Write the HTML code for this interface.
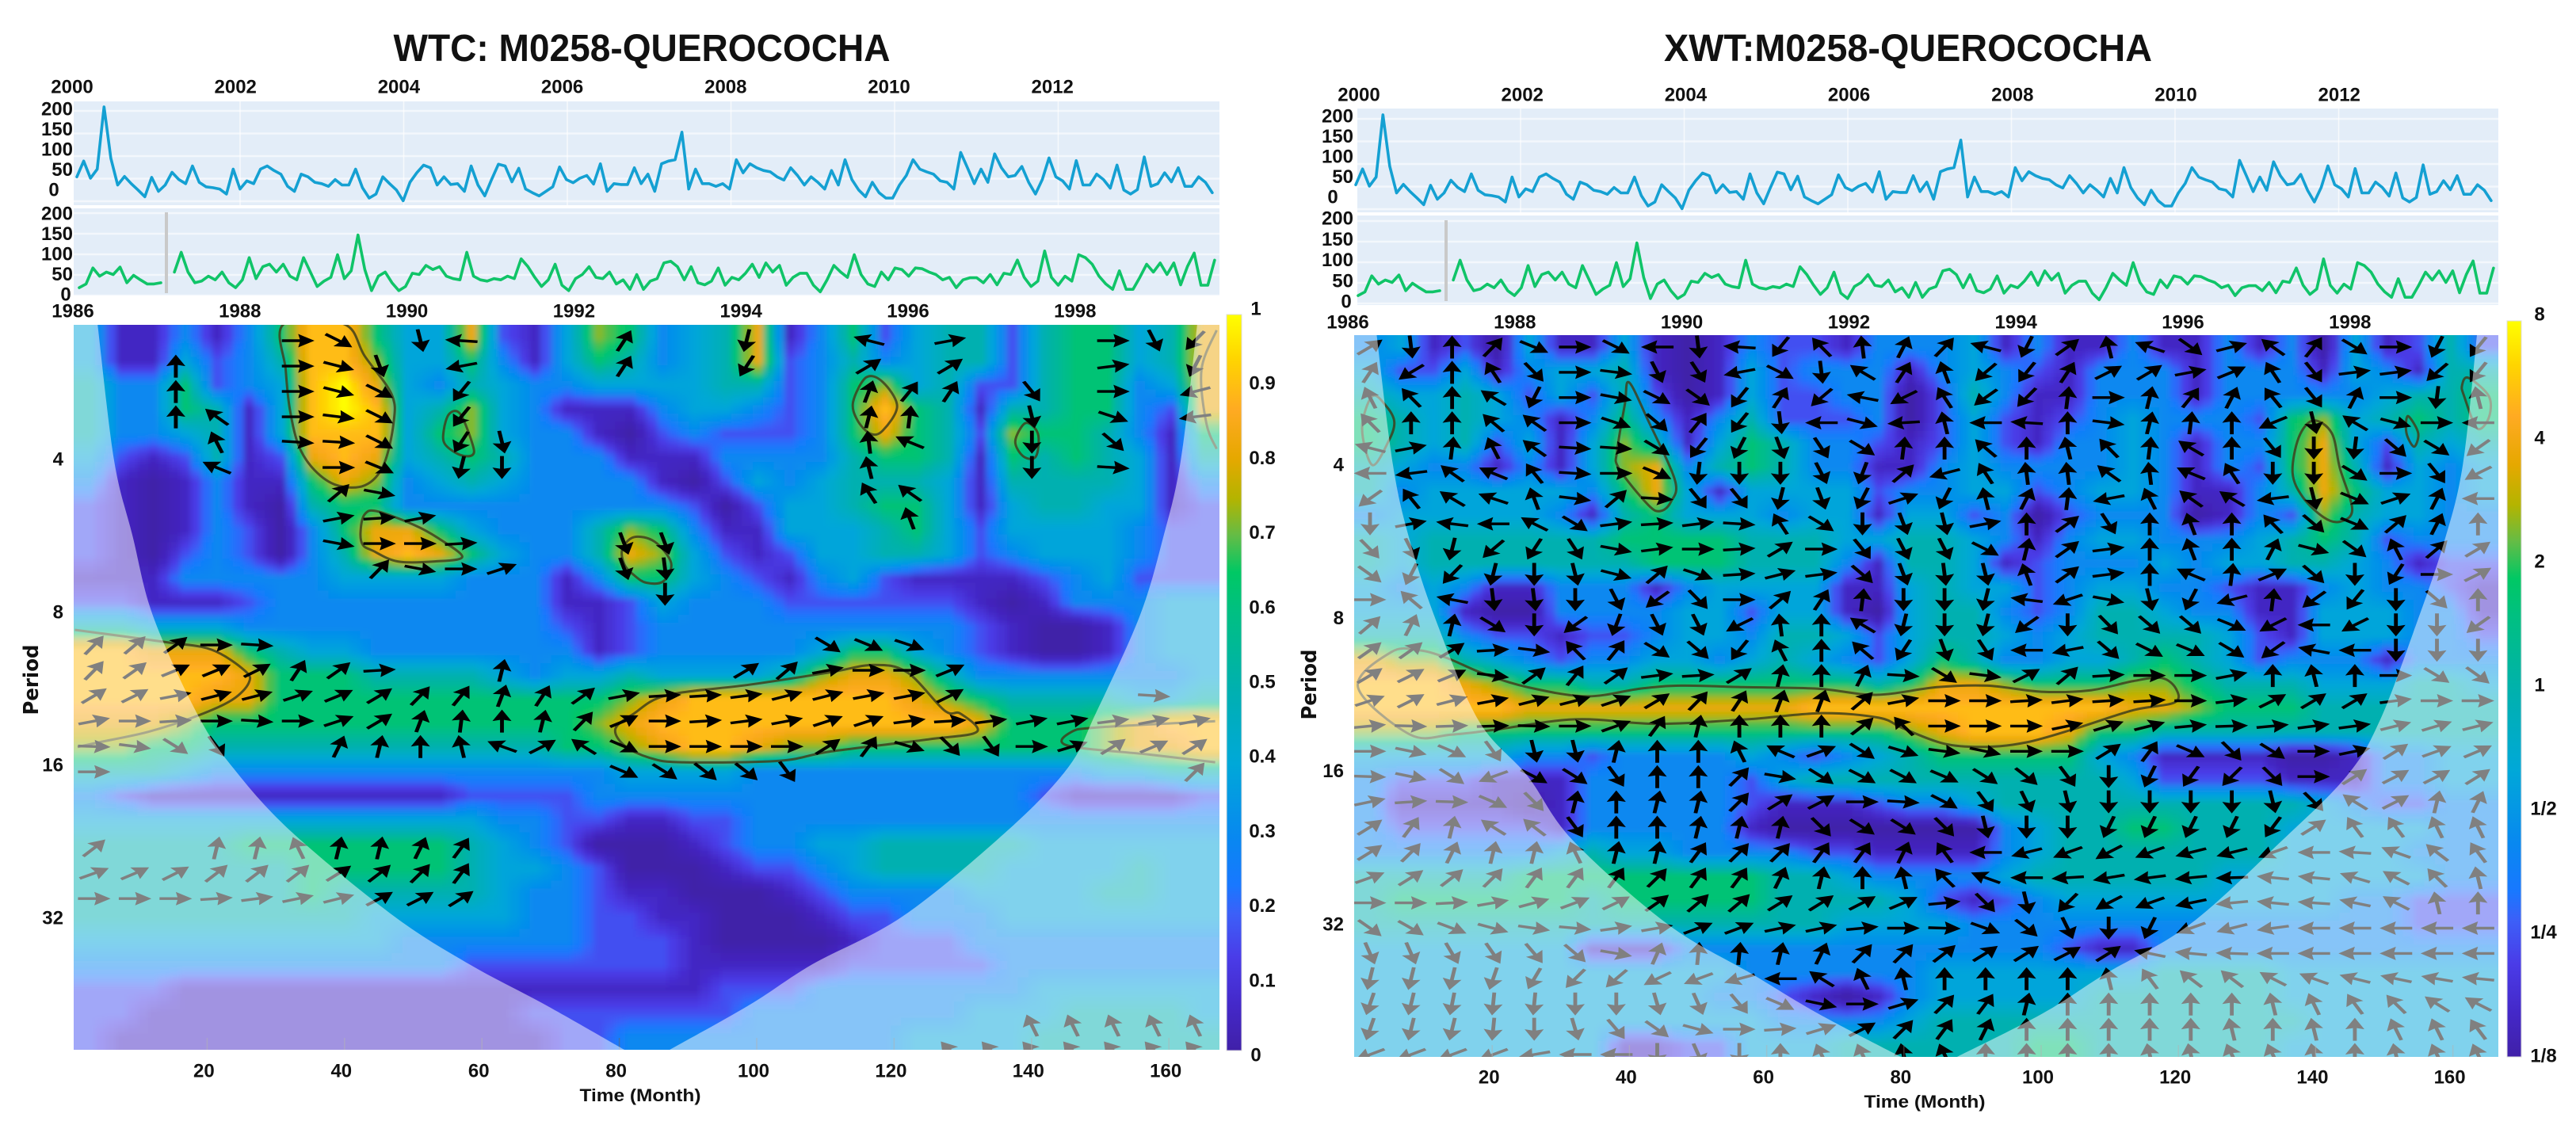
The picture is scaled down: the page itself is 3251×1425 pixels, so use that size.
<!DOCTYPE html>
<html lang="en">
<head>
<meta charset="utf-8">
<title>WTC and XWT: M0258-QUEROCOCHA</title>
<style>
html,body{margin:0;padding:0;background:#fff;}
svg{display:block;}
text{font-family:"Liberation Sans","DejaVu Sans",sans-serif;font-weight:700;fill:#111;}
</style>
</head>
<body>
<svg id="figure" xmlns="http://www.w3.org/2000/svg" width="3251" height="1425" viewBox="0 0 3251 1425">
<defs>
<filter id="wave-blur" filterUnits="userSpaceOnUse" x="0" y="350" width="3251" height="1075"><feGaussianBlur stdDeviation="4"/></filter>
<clipPath id="clip-wtc"><rect x="93" y="410" width="1446" height="915"/></clipPath>
<clipPath id="clip-xwt"><rect x="1709" y="423" width="1444" height="911"/></clipPath>
</defs>
<text x="810" y="77" text-anchor="middle" font-size="48" textLength="627" lengthAdjust="spacingAndGlyphs">WTC: M0258-QUEROCOCHA</text>
<text x="2408" y="77" text-anchor="middle" font-size="48" textLength="616" lengthAdjust="spacingAndGlyphs">XWT:M0258-QUEROCOCHA</text>
<g id="wtc-chart"></g>
<g id="xwt-chart"></g>
<text transform="translate(48,858) rotate(-90)" text-anchor="middle" font-size="26" textLength="89" lengthAdjust="spacingAndGlyphs" style="font-family:'DejaVu Sans',sans-serif">Period</text>
<text transform="translate(1661,864) rotate(-90)" text-anchor="middle" font-size="26" textLength="89" lengthAdjust="spacingAndGlyphs" style="font-family:'DejaVu Sans',sans-serif">Period</text>
<text x="808" y="1390" text-anchor="middle" font-size="22" textLength="153" lengthAdjust="spacingAndGlyphs">Time (Month)</text>
<text x="2429" y="1398" text-anchor="middle" font-size="22" textLength="153" lengthAdjust="spacingAndGlyphs">Time (Month)</text>
</svg>
<script>
/* ---------- series ---------- */
const blueSeries = [54,89,51,71,209,95,36,55,39,25,10,53,22,36,64,48,39,78,42,32,30,27,16,71,27,45,39,71,78,68,60,33,22,60,54,42,39,33,48,36,36,71,30,7,16,54,39,25,1,42,63,80,74,36,54,37,39,22,78,36,12,48,82,78,43,73,27,19,12,22,32,76,48,41,51,57,38,83,22,39,37,37,74,39,60,22,83,89,92,153,27,71,39,39,33,39,27,92,63,83,74,68,65,54,47,74,57,36,54,42,27,68,36,92,48,25,10,42,19,7,7,36,57,92,71,65,60,45,42,27,108,74,39,71,42,105,74,54,57,77,42,16,48,96,54,45,27,90,36,36,60,48,29,80,25,16,26,98,33,39,63,43,74,33,33,54,42,19];
const greenSeries = [19,28,67,47,57,51,69,31,49,38,28,28,31,null,57,105,57,31,35,47,38,57,31,19,38,92,41,70,76,57,76,47,38,92,57,22,35,44,99,41,60,147,63,12,47,57,31,12,22,54,51,73,63,70,47,41,38,105,47,38,35,41,38,47,41,89,70,44,22,38,76,25,12,41,51,70,44,41,57,28,38,15,51,15,35,41,79,83,70,38,70,31,26,35,67,25,44,38,54,76,44,79,57,73,25,44,54,54,25,9,38,73,57,44,99,51,28,22,57,38,67,63,47,67,65,57,51,38,44,19,38,43,43,31,51,26,54,51,86,44,22,35,108,44,25,47,35,99,92,76,47,28,15,60,15,15,44,76,57,79,51,79,26,70,103,25,25,86];
const seriesTicks = [0,50,100,150,200];
const topYears = [2000,2002,2004,2006,2008,2010,2012];
const bottomYears = [1986,1988,1990,1992,1994,1996,1998];
const monthTicks = [20,40,60,80,100,120,140,160];
const periodTicks = [4,8,16,32];
const wtcScaleTicks = [0,0.1,0.2,0.3,0.4,0.5,0.6,0.7,0.8,0.9,1];
const xwtScaleTicks = [0.125,0.25,0.5,1,2,4,8];
const xwtScaleNames = ['1/8','1/4','1/2','1','2','4','8'];

/* ---------- colour scale (position 0..1) ---------- */
const colorPositions = [0,0.06,0.127,0.186,0.225,0.29,0.39,0.49,0.6,0.65,0.7,0.75,0.805,0.87,0.94,1];
const colorValues = ['#4020a8','#4428c8','#4a3ce8','#3c60f8','#1878ff','#0888f0','#00a8d8','#00b0b0','#00c080','#00c864','#64bc46','#b4b400','#e6a800','#ffaa22','#ffd500','#ffff00'];
const heatCurve = [0,0.5,1.6,2.9,3.8,4.9,6.2,7.2,8.2,9,10];

/* ---------- cone of influence (octave of period, month at the edges) ---------- */
const coneOctaves = [1.115,2,2.5,3.03,3.67,4.03,4.45,5,5.32,5.58,5.88];
const wtcConeLeft = [4.5,6.9,9.6,12.6,19,24.3,32.8,47.6,58.7,69.5,81.2];
const wtcConeRight = [164.6,162.2,159.7,156.2,149.8,145.7,136.7,121.8,108.5,99.6,87.8];
const xwtConeLeft = [3.6,6,8.5,12.4,18.5,25.6,32.2,46.1,58.2,67.9,80.7];
const xwtConeRight = [164,161.9,159.2,155.2,149.8,145,135.6,122.1,109.9,100.7,87.5];

/* ---------- WTC coherence grid (tenths of the colour scale) ---------- */
const wtcHeatRows = [
[4,1,1,3,1,3,6,9,9,6,4,4,8,2,1,4,7,6,3,4,5,8,1,3,6,2,4,5,5,2,5,6,6,4,5,8],
[4,1,1,4,2,3,5,9,9,7,4,4,6,3,1,4,6,5,3,4,5,8,2,3,5,3,4,5,5,2,5,6,6,4,5,8],
[5,3,3,6,2,3,4,9,10,8,4,3,5,4,3,3,4,4,4,4,5,5,2,3,6,7,4,5,2,2,5,6,6,3,4,8],
[5,3,3,6,5,1,4,9,10,9,4,5,7,4,3,1,1,1,3,4,4,3,2,3,6,9,6,5,1,5,5,6,6,3,2,8],
[5,3,3,4,5,1,4,9,9,9,4,6,7,4,3,3,1,0,2,3,2,2,2,3,6,8,6,5,2,7,6,6,5,3,1,6],
[4,2,1,2,5,1,2,8,9,8,4,5,6,5,3,3,3,1,1,1,3,3,3,3,5,6,6,5,1,6,5,6,5,4,1,5],
[3,1,0,1,3,1,1,6,8,7,3,4,5,4,3,3,3,3,1,0,2,4,3,4,5,5,5,4,1,5,5,5,5,4,1,3],
[2,1,0,1,3,1,0,5,6,6,3,3,3,3,3,3,3,3,3,2,0,2,4,4,5,6,6,4,1,4,5,5,4,4,1,2],
[2,1,0,1,3,2,0,3,6,8,8,6,4,3,3,3,5,7,6,3,1,1,4,4,4,5,6,4,2,4,4,4,4,3,2,2],
[2,1,0,2,3,2,0,3,5,8,9,8,6,4,3,3,5,8,7,4,2,1,2,4,4,5,5,4,2,3,4,4,4,3,2,2],
[1,1,1,3,3,3,3,3,4,4,4,4,3,3,3,1,3,6,6,4,3,2,1,3,4,2,1,1,1,1,2,3,4,2,2,2],
[2,2,1,1,1,2,3,3,3,3,3,3,3,3,3,1,1,2,4,3,3,3,2,2,2,2,2,2,1,0,1,3,3,3,4,4],
[5,5,4,4,4,3,3,3,3,3,3,3,3,3,3,2,1,2,3,3,3,3,3,3,3,3,3,3,2,1,0,0,1,3,4,4],
[9,9,8,8,8,6,5,4,4,3,3,3,3,3,3,3,1,2,3,3,3,3,3,4,6,6,4,3,2,1,0,0,1,3,4,4],
[9,9,9,9,9,8,6,6,6,5,5,5,5,4,3,4,4,5,4,4,4,4,5,7,8,8,7,5,3,3,3,3,3,3,3,4],
[9,9,9,9,8,8,6,6,6,6,6,6,6,6,6,6,6,7,8,9,9,9,9,9,9,9,8,7,6,5,5,5,5,4,4,5],
[8,8,8,7,6,6,6,6,6,6,6,6,6,6,6,6,7,8,9,9,9,9,9,9,9,9,9,9,8,6,6,6,7,8,9,9],
[7,7,6,6,5,5,5,5,5,5,5,5,5,5,5,6,6,7,8,9,9,8,7,7,6,6,6,6,6,6,6,6,7,8,8,9],
[5,5,5,4,3,3,3,3,3,3,3,3,3,3,3,3,3,4,4,4,4,3,3,3,3,3,3,3,3,3,3,3,4,4,5,5],
[3,2,1,1,1,1,1,1,1,1,1,1,2,2,2,2,3,3,3,3,3,3,3,3,3,3,3,3,3,3,2,1,1,1,1,2],
[4,4,4,4,4,4,4,4,4,4,4,4,4,3,3,2,2,1,1,2,2,3,3,3,3,3,3,3,3,3,3,3,3,3,3,3],
[5,5,5,5,5,6,6,6,6,6,6,6,5,4,3,2,0,0,0,1,2,3,3,4,4,5,5,5,5,5,4,4,4,4,4,4],
[5,5,5,5,5,5,5,6,6,6,6,6,5,4,4,3,2,0,0,0,1,2,2,3,4,5,5,5,5,4,4,4,4,5,4,4],
[5,5,5,5,5,5,5,6,5,5,5,5,5,4,3,3,2,1,1,0,0,0,1,2,3,3,3,3,4,4,4,4,5,5,4,4],
[5,5,5,5,5,5,5,5,5,4,4,4,4,4,3,3,2,2,1,1,0,0,0,1,2,2,3,3,3,4,4,4,4,4,4,4],
[4,4,4,4,4,4,4,4,4,4,3,3,3,3,3,3,2,2,2,1,0,0,0,0,1,2,2,2,3,3,3,3,3,3,3,3],
[3,3,3,3,3,3,3,3,3,3,3,3,2,2,2,2,2,2,2,1,1,1,1,1,2,2,2,2,2,3,3,3,3,3,3,3],
[2,2,2,1,1,1,1,1,1,1,1,1,1,1,1,1,1,1,1,1,2,2,2,3,3,3,3,3,3,3,4,4,4,4,4,4],
[2,2,1,1,1,1,1,1,1,1,1,1,1,1,2,2,2,2,2,2,2,3,3,3,3,3,3,3,4,4,4,5,5,5,5,4],
[2,1,1,1,1,1,1,1,1,1,1,1,1,1,1,2,2,3,3,3,3,3,3,3,3,3,4,4,4,4,5,5,5,5,5,5]
];

/* ---------- XWT power grid (tenths of the colour scale) ---------- */
const xwtHeatRows = [
[3,4,1,2,0,4,1,1,4,1,0,1,3,2,2,1,3,3,3,4,1,3,1,1,3,1,1,3,1,3,0,4,1,2,5,2],
[4,2,2,4,1,3,4,4,5,1,0,1,4,2,3,3,3,1,3,4,3,2,1,3,3,3,1,3,3,3,1,4,3,1,5,5],
[5,4,4,5,4,2,4,2,5,2,0,1,4,2,2,3,3,0,2,5,3,1,1,3,3,3,1,3,3,3,3,3,4,5,5,6],
[6,5,4,5,4,3,1,3,6,3,1,3,5,2,2,2,3,0,2,4,2,1,2,3,4,3,3,3,2,6,7,4,5,6,5,6],
[6,5,4,5,2,4,1,4,7,5,1,4,6,5,3,3,2,1,2,4,2,1,3,3,4,3,1,3,3,6,8,4,2,5,4,5],
[5,4,3,3,1,3,1,4,7,8,3,5,6,5,3,3,1,1,3,4,3,3,3,3,4,3,1,3,2,6,8,5,1,4,3,4],
[5,3,4,4,4,4,4,3,6,8,4,1,4,4,4,4,2,3,3,4,4,2,3,4,4,3,1,1,3,5,8,6,4,4,3,4],
[3,4,4,4,4,4,3,1,5,6,4,4,4,3,4,4,1,4,4,2,3,0,2,3,3,3,0,1,3,2,7,5,4,4,3,3],
[5,4,5,5,5,5,5,5,6,6,6,6,5,5,5,4,4,5,5,4,3,1,3,4,4,3,3,3,4,5,6,5,2,3,3,3],
[5,4,5,5,5,5,5,5,5,6,6,6,5,5,5,3,1,5,5,4,1,2,3,3,3,4,3,4,4,5,5,4,3,1,2,2],
[4,3,4,3,1,1,3,3,3,1,3,4,4,4,4,1,1,4,5,4,4,2,3,4,4,3,3,2,1,1,3,4,3,3,2,1],
[4,4,4,1,0,0,3,3,3,3,4,4,2,4,4,1,0,4,5,5,3,2,3,5,5,4,3,3,1,1,4,4,4,3,3,1],
[5,5,5,3,2,2,1,2,2,3,4,4,3,5,5,4,2,4,5,5,4,3,4,5,5,5,5,4,2,1,4,4,4,3,3,2],
[8,7,7,5,4,3,2,3,3,4,4,3,4,5,4,3,2,4,6,5,3,3,4,4,5,6,5,4,2,3,3,3,1,3,3,3],
[9,9,9,8,7,6,6,5,5,6,6,6,6,6,6,6,5,6,8,8,7,6,6,6,7,7,6,5,5,5,4,4,4,5,5,4],
[9,9,9,9,9,8,8,8,8,8,8,8,8,8,9,9,9,9,9,9,9,9,9,9,8,8,7,6,6,6,5,5,5,5,5,5],
[7,7,7,6,6,6,6,6,6,6,6,6,6,6,6,6,6,7,8,9,9,9,8,6,6,5,5,5,5,5,5,5,5,5,5,5],
[4,4,4,4,4,3,3,2,3,3,3,3,4,3,2,3,4,5,6,6,6,6,6,4,3,1,1,1,1,0,0,1,3,3,4,4],
[3,2,2,2,1,1,1,3,3,3,3,3,2,4,5,5,5,5,5,5,5,5,5,5,4,2,2,2,2,1,1,1,3,3,4,4],
[3,1,1,1,1,0,1,3,3,3,3,3,2,1,1,1,2,3,3,4,5,5,5,5,5,5,5,5,5,5,4,3,2,2,3,3],
[3,2,2,2,2,2,1,3,3,3,3,3,1,0,0,0,0,0,0,0,3,4,5,5,6,6,5,5,5,4,4,4,4,4,3,3],
[3,3,3,3,3,3,4,5,4,4,3,3,3,3,2,2,1,1,1,1,3,4,5,5,5,5,5,5,5,4,4,4,4,3,3,3],
[5,5,5,5,5,6,6,6,6,6,6,6,6,5,5,4,3,3,3,3,4,5,5,5,5,5,5,4,4,4,4,4,4,4,3,3],
[5,6,6,6,6,6,6,5,6,6,6,6,6,5,5,5,5,4,2,1,2,3,4,4,4,4,4,4,4,4,4,3,3,2,2,2],
[5,5,5,5,5,5,5,5,5,5,5,5,5,5,5,4,4,4,4,3,3,3,3,3,3,3,3,3,3,3,3,3,3,2,2,2],
[4,4,4,4,4,4,4,1,1,1,3,3,3,3,3,3,3,3,3,3,3,3,2,1,1,3,3,3,3,3,3,3,3,3,3,3],
[4,4,4,4,4,4,4,4,4,4,4,4,3,3,3,3,3,3,4,4,4,4,4,4,4,5,5,5,5,4,4,4,4,4,4,4],
[4,4,4,4,4,4,4,4,4,4,4,3,3,2,1,0,1,3,4,4,4,4,4,5,5,5,5,5,5,4,4,4,4,4,4,4],
[4,4,4,4,4,4,4,4,4,4,4,4,4,3,3,3,3,4,5,5,5,5,5,5,5,5,5,5,5,5,4,4,4,4,4,4],
[4,4,4,4,4,4,4,4,1,1,2,2,4,4,4,5,5,5,5,5,5,6,6,5,5,5,5,5,5,4,4,4,4,4,4,4]
];

/* ---------- WTC phase arrows: row, column, degrees ---------- */
const wtcArrows = [
[0,5,0],[0,6,-35],[0,8,-80],[0,9,175],[0,13,65],[0,16,-100],[0,19,160],[0,21,15],[0,25,0],[0,26,-70],[0,27,235],
[1,2,90],[1,5,0],[1,6,-20],[1,7,-75],[1,9,195],[1,13,65],[1,16,-115],[1,19,40],[1,21,40],[1,25,10],[1,27,250],
[2,2,90],[2,5,0],[2,6,-20],[2,7,-35],[2,9,240],[2,19,75],[2,20,60],[2,21,65],[2,23,-60],[2,25,0],[2,27,200],
[3,2,90],[3,3,135],[3,5,0],[3,6,-10],[3,7,-35],[3,9,240],[3,19,80],[3,20,85],[3,23,-80],[3,25,-25],[3,27,190],
[4,3,110],[4,5,-5],[4,6,-5],[4,7,-35],[4,9,245],[4,10,-80],[4,19,95],[4,20,150],[4,23,-90],[4,25,-50],
[5,3,150],[5,6,0],[5,7,-30],[5,9,-100],[5,10,-90],[5,19,100],[5,23,-90],[5,25,-5],
[6,6,50],[6,7,-15],[6,19,115],[6,20,135],
[7,6,15],[7,7,5],[7,8,15],[7,20,105],
[8,6,-15],[8,7,0],[8,8,0],[8,9,5],[8,13,-75],[8,14,-75],
[9,7,55],[9,8,-15],[9,9,0],[9,10,25],[9,13,-75],[9,14,-85],
[10,14,-90],
[12,0,55],[12,1,50],[12,2,45],[12,3,0],[12,4,-5],[12,18,-40],[12,19,-30],[12,20,-25],
[13,0,55],[13,1,45],[13,2,30],[13,3,30],[13,4,35],[13,5,65],[13,6,45],[13,7,5],[13,10,80],[13,16,40],[13,17,50],[13,18,15],[13,19,0],[13,20,0],[13,21,30],
[14,0,40],[14,1,35],[14,2,15],[14,3,20],[14,4,20],[14,5,25],[14,6,30],[14,7,40],[14,8,55],[14,9,60],[14,10,75],[14,11,65],[14,12,45],[14,13,15],[14,14,5],[14,15,5],[14,16,10],[14,17,20],[14,18,20],[14,19,15],[14,20,15],[14,21,35],[14,26,-5],
[15,0,15],[15,1,0],[15,2,5],[15,3,0],[15,4,-5],[15,5,0],[15,6,25],[15,7,40],[15,8,75],[15,9,85],[15,10,90],[15,11,80],[15,12,55],[15,13,30],[15,14,0],[15,15,5],[15,16,10],[15,17,15],[15,18,25],[15,19,25],[15,20,10],[15,21,5],[15,22,10],[15,23,15],[15,24,15],[15,25,10],[15,26,15],[15,27,15],
[16,0,-5],[16,1,-20],[16,2,-60],[16,3,-75],[16,6,80],[16,7,85],[16,8,90],[16,9,95],[16,10,135],[16,11,55],[16,12,120],[16,13,-50],[16,14,0],[16,15,0],[16,16,0],[16,17,0],[16,18,60],[16,19,75],[16,20,-40],[16,21,-70],[16,22,-75],[16,23,0],[16,24,40],[16,25,60],[16,26,50],[16,27,60],
[17,0,0],[17,13,-50],[17,14,-60],[17,15,-65],[17,16,-65],[17,17,-75],[17,27,70],
[20,0,65],[20,3,85],[20,4,85],[20,5,100],[20,6,85],[20,7,85],[20,8,80],[20,9,75],
[21,0,45],[21,1,50],[21,2,55],[21,3,65],[21,4,65],[21,5,65],[21,6,60],[21,7,65],[21,8,70],[21,9,75],
[22,0,0],[22,1,0],[22,2,0],[22,3,10],[22,4,20],[22,5,30],[22,6,35],[22,7,55],[22,8,55],[22,9,60],
[27,23,100],[27,24,100],[27,25,100],[27,26,100],[27,27,100],
[28,21,110],[28,22,110],[28,23,110],[28,24,110],[28,25,110],[28,26,110],[28,27,110]
];

/* ---------- XWT phase arrows: degrees per row ---------- */
const xwtAngleRows = [
[40,-85,90,55,-30,0,-35,180,-85,175,240,125,95,70,55,160,250,45,100,155,-45,20,135,60,-40,0,250,240],
[65,220,90,115,-55,0,-10,-70,-65,195,-35,-85,140,65,105,230,240,65,35,40,15,30,115,-60,10,10,230,240],
[110,125,90,140,250,0,-15,-35,-45,240,65,230,165,215,115,225,235,85,0,80,60,70,120,-60,70,0,265,100],
[125,90,90,130,135,0,-25,-50,60,240,-85,180,-20,185,100,180,175,90,-10,80,85,90,210,-80,140,-20,0,180],
[160,15,85,110,135,-5,-5,-40,240,250,-75,-65,-40,85,90,130,90,100,125,85,140,90,-60,-90,-95,-50,-40,225],
[180,190,135,150,120,-5,0,-30,-95,-90,-90,-70,255,50,200,115,95,95,135,95,150,115,-90,-90,-40,0,-60,215],
[225,120,140,155,105,-10,50,-5,-60,-60,260,-75,250,25,250,100,70,85,195,110,135,140,190,-80,-30,25,70,180],
[-90,15,170,180,145,-40,10,5,10,-5,115,-40,-90,-75,-80,15,90,45,-65,90,105,90,125,-50,-30,50,70,90],
[-55,-70,260,230,245,-65,-15,10,0,5,40,0,-60,-70,-70,-35,80,45,10,90,105,90,70,-20,-45,110,50,40],
[-45,250,235,260,-90,-80,-20,50,-25,5,20,10,-50,-75,-85,-80,105,45,10,90,150,85,30,-50,-90,245,0,35],
[0,130,165,-85,-85,-90,-70,225,-55,0,50,65,85,-90,-90,260,170,205,-15,-80,250,200,85,225,240,-90,-50,90],
[50,70,80,-40,-90,225,255,-70,-70,215,95,90,140,260,-90,260,225,-90,-55,-50,-50,-30,215,180,215,-90,-90,225],
[45,45,40,5,-10,125,60,-40,-50,240,110,90,130,245,-75,-65,180,195,-50,-35,-30,-40,225,165,180,-90,-90,-90],
[40,35,30,-10,45,60,45,10,5,40,80,90,70,-5,-40,-10,35,50,5,0,0,15,90,100,90,0,-40,-45],
[25,35,20,15,20,20,25,40,55,65,75,75,50,15,0,0,5,10,5,5,0,10,35,40,40,10,0,0],
[15,-5,5,5,-5,0,45,75,85,90,90,90,65,110,0,0,0,30,40,35,15,5,15,20,20,35,40,35],
[0,-30,-50,-75,-85,-85,85,90,90,100,130,45,-60,-40,-20,-30,0,0,60,75,-50,-70,-60,0,30,60,45,50],
[-5,-30,-60,225,-55,-60,-75,90,90,70,-25,-60,-55,-55,-50,-60,-65,-75,-90,260,255,250,-70,0,60,55,55,60],
[30,10,-5,-50,-70,85,90,85,85,70,60,55,0,-10,-55,-75,-80,-85,-90,-90,-90,-90,-85,-70,120,55,85,80],
[60,75,85,120,115,-75,90,90,85,85,85,-70,-60,-60,-70,-85,-90,-90,-100,-100,-100,-100,-105,60,105,105,100,100],
[60,70,80,85,85,100,85,85,75,70,70,75,75,80,105,180,215,225,235,225,215,215,225,180,170,135,115,105],
[45,60,65,70,75,75,75,70,75,75,80,85,90,95,110,135,180,190,205,200,195,185,165,165,140,125,110,95],
[0,0,8,26,37,46,53,63,67,67,60,60,55,50,15,-70,-85,250,235,225,210,195,165,170,150,125,95,90],
[-63,-58,-46,-37,-22,-14,22,26,46,46,30,30,15,0,-5,-45,-65,-80,-90,-100,225,215,200,180,180,180,180,180],
[-81,-81,-78,-76,-73,-67,-26,81,88,88,85,80,70,70,65,60,60,55,60,150,165,175,180,180,180,180,180,180],
[265,265,265,263,258,250,247,233,226,217,180,120,100,95,90,90,90,90,95,105,115,115,125,135,145,150,155,165],
[263,265,266,268,268,270,270,-84,-81,-73,-50,-30,0,40,70,75,85,90,90,90,90,90,95,100,105,110,120,125],
[263,265,265,268,-90,-84,-73,-63,-37,0,10,40,55,70,75,80,90,90,90,90,90,95,90,95,90,100,100,105],
[226,226,226,226,206,180,180,-90,-81,-90,90,100,100,95,100,90,90,90,90,95,95,100,100,95,90,95,100,100]
];

/* ---------- significance contours: month, octave of period ---------- */
const wtcContours = [
{closed:true,points:[[31.6,1.11],[31.9,1.41],[32.5,1.67],[33.8,1.91],[36.1,2.07],[39.4,2.17],[43.4,2.17],[46.1,2.04],[47.6,1.76],[47.3,1.57],[43.4,1.32],[40.4,1.11]]},
{closed:true,points:[[42.8,2.47],[43.4,2.36],[45.2,2.34],[50.6,2.43],[54.2,2.52],[57.6,2.64],[53.6,2.67],[48.2,2.67],[44.6,2.6],[43.1,2.56]]},
{closed:true,points:[[54.9,1.81],[55.7,1.7],[57.3,1.7],[59.1,1.9],[59.1,1.97],[57.3,1.97],[55.1,1.9]]},
{closed:true,points:[[80.9,2.59],[82.6,2.51],[85.6,2.54],[88,2.68],[86.9,2.8],[84.4,2.81],[82.6,2.76],[81.2,2.69]]},
{closed:true,points:[[114.5,1.62],[116.4,1.46],[118.8,1.49],[120.9,1.65],[118.8,1.81],[117,1.83],[115.1,1.74]]},
{closed:true,points:[[138.1,1.88],[139.6,1.76],[141.4,1.83],[141.1,1.98],[139.3,1.98]]},
{closed:true,points:[[79.9,3.77],[81.2,3.88],[84.8,3.96],[89.5,3.99],[103.8,3.98],[111.1,3.92],[125.4,3.84],[132.5,3.79],[130.1,3.67],[127.8,3.65],[122.4,3.4],[117.5,3.35],[111,3.4],[99.4,3.48],[87.4,3.55],[82.6,3.67]]},
{closed:false,points:[[1.2,3.12],[14.4,3.2],[21.1,3.25],[26,3.39],[26.5,3.47],[24.1,3.58],[19.3,3.68],[11.9,3.79],[4.6,3.86],[1.6,3.89]]},
{closed:false,points:[[167.2,3.72],[150.5,3.76],[146.3,3.79],[145.7,3.88],[157.7,3.94],[167.2,3.99]]},
{closed:false,points:[[167.4,1.15],[165.2,1.41],[165.9,1.76],[167.4,1.93]]}
];
const xwtContours = [
{closed:true,points:[[40.4,1.46],[43.2,1.71],[47.1,2.1],[46.5,2.24],[45,2.3],[43.2,2.26],[38.9,2.02],[38.7,1.9],[39.8,1.6]]},
{closed:true,points:[[140.1,1.71],[142.8,1.79],[144,2.02],[145.8,2.29],[144,2.37],[141.6,2.34],[138.6,2.21],[137.1,2.05],[138,1.82]]},
{closed:true,points:[[153.9,1.68],[155.4,1.79],[154.8,1.88],[153.7,1.79]]},
{closed:true,points:[[5.1,1.62],[6.2,1.72],[5.4,1.84],[3,2],[1.5,1.76],[3,1.55]]},
{closed:true,points:[[162.7,1.43],[165.7,1.55],[165.7,1.69],[164,1.76],[162.1,1.55],[161.8,1.48]]},
{closed:true,points:[[5.8,3.22],[9.9,3.21],[13.9,3.26],[19.1,3.36],[25.6,3.45],[34.2,3.51],[42,3.46],[48,3.44],[57,3.45],[67.9,3.46],[76.4,3.5],[85.3,3.45],[92.6,3.44],[100.5,3.48],[107.7,3.47],[113.9,3.41],[118,3.39],[120.1,3.46],[119.9,3.55],[113.9,3.6],[105.5,3.72],[98.4,3.81],[92.4,3.84],[86.4,3.82],[80.4,3.72],[76.8,3.65],[68.5,3.62],[57.6,3.66],[44.5,3.69],[32.6,3.66],[20.6,3.73],[14.5,3.76],[8.5,3.76],[0.9,3.45]]}
];

/* ---------- chart geometry ---------- */
const NS = 'http://www.w3.org/2000/svg';
function mk(tag, attrs, parent){
  const n = document.createElementNS(NS, tag);
  for (const k in attrs) n.setAttribute(k, attrs[k]);
  parent.appendChild(n);
  return n;
}
function hex2(h){ return [parseInt(h.slice(1,3),16),parseInt(h.slice(3,5),16),parseInt(h.slice(5,7),16)]; }
function heatColor(p){
  p = Math.max(0, Math.min(1, p));
  let i = 0;
  while (i < colorPositions.length-2 && p > colorPositions[i+1]) i++;
  const t = (p-colorPositions[i])/(colorPositions[i+1]-colorPositions[i]);
  const a = hex2(colorValues[i]), b = hex2(colorValues[i+1]);
  return 'rgb('+Math.round(a[0]+(b[0]-a[0])*t)+','+Math.round(a[1]+(b[1]-a[1])*t)+','+Math.round(a[2]+(b[2]-a[2])*t)+')';
}
function curved(v){
  const i = Math.min(9, Math.floor(v));
  return heatCurve[i]+(heatCurve[i+1]-heatCurve[i])*(v-i);
}
function smoothPath(pts, closed){
  const n = pts.length;
  const at = i => closed ? pts[(i+n)%n] : pts[Math.max(0,Math.min(n-1,i))];
  let d = 'M'+pts[0][0].toFixed(1)+','+pts[0][1].toFixed(1);
  const last = closed ? n : n-1;
  for (let i=0;i<last;i++){
    const p0=at(i-1),p1=at(i),p2=at(i+1),p3=at(i+2);
    d += 'C'+(p1[0]+(p2[0]-p0[0])/6).toFixed(1)+','+(p1[1]+(p2[1]-p0[1])/6).toFixed(1)+' '+(p2[0]-(p3[0]-p1[0])/6).toFixed(1)+','+(p2[1]-(p3[1]-p1[1])/6).toFixed(1)+' '+p2[0].toFixed(1)+','+p2[1].toFixed(1);
  }
  return d+(closed?'Z':'');
}
const arrowShape = 'M-14.5,-1.7L1.5,-1.7L0,-8.5L14.5,0L0,8.5L1.5,1.7L-14.5,1.7Z';

function drawChart(cfg){
  const root = document.getElementById(cfg.id);
  const X = m => cfg.x0 + cfg.xk*m;
  const Y = o => cfg.y0 + cfg.yk*(o-2);

  /* line panels */
  [cfg.panelA, cfg.panelB].forEach((pn, idx) => {
    const bg = mk('rect',{x:cfg.px0,y:pn.top,width:cfg.px1-cfg.px0,height:pn.bottom-pn.top,fill:'#e3edf8'},root);
    
    
    const vy = v => pn.zero - pn.k*v;
    seriesTicks.forEach(v => {
      const g = mk('line',{x1:cfg.px0,x2:cfg.px1,y1:vy(v),y2:vy(v),stroke:'#fff','stroke-width':2.5,opacity:.6},root);
      
      
      const t = mk('text',{x:v===0?pn.zeroX:cfg.tickRight,y:pn.label0-pn.labelK*v,'text-anchor':v===0?'middle':'end','dominant-baseline':'central','font-size':24},root);
      
      
      t.textContent = v;
    });
    if (idx===0) for (let k=1;k<7;k++){
      const g = mk('line',{x1:cfg.vg0+206.5*(k-1),x2:cfg.vg0+206.5*(k-1),y1:pn.top,y2:pn.bottom,stroke:'#fff','stroke-width':1.5,opacity:.7},root);
      
      
    }
    const data = idx===0 ? blueSeries : greenSeries;
    const sx = i => pn.start + 8.58*i;
    let d = '', pen = false;
    data.forEach((v,i) => {
      if (v===null){ pen=false; return; }
      d += (pen?'L':'M')+sx(i).toFixed(1)+','+vy(v).toFixed(1);
      pen = true;
    });
    const path = mk('path',{d:d,fill:'none',stroke:idx===0?'#14a0d2':'#10c468','stroke-width':3.6,'stroke-linejoin':'round','stroke-linecap':'round'},root);
    
    
  });
  const marker = mk('rect',{x:cfg.barX,y:cfg.barTop,width:4,height:cfg.barH,fill:'#c9c9c9'},root);
  
  

  /* year labels */
  topYears.forEach(yr => {
    const t = mk('text',{x:cfg.topYearX+103.1*(yr-2000),y:cfg.topYearY,'text-anchor':'middle','dominant-baseline':'central','font-size':24},root);
    
    
    t.textContent = yr;
  });
  bottomYears.forEach(yr => {
    const t = mk('text',{x:cfg.botYearX+105.4*(yr-1986),y:cfg.botYearY,'text-anchor':'middle','dominant-baseline':'central','font-size':24},root);
    
    
    t.textContent = yr;
  });

  /* heatmap */
  const clipped = mk('g',{'clip-path':'url(#'+cfg.clip+')'},root);
  
  
  const heat = mk('g',{filter:'url(#wave-blur)','shape-rendering':'crispEdges'},clipped);
  
  
  const rows = cfg.rows, nr = rows.length, nc = rows[0].length, sub = 3;
  const mW = (cfg.t1-cfg.t0)/(nc*sub), oH = (cfg.o1-cfg.o0)/(nr*sub);
  for (let R=0;R<nr*sub;R++){
    const ru = Math.max(0,Math.min(nr-1.0001,(R+.5)/sub-.5)), r0 = Math.floor(ru), rf = ru-r0;
    for (let C=0;C<nc*sub;C++){
      const cu = Math.max(0,Math.min(nc-1.0001,(C+.5)/sub-.5)), c0 = Math.floor(cu), cf = cu-c0;
      const v = (rows[r0][c0]*(1-cf)+rows[r0][c0+1]*cf)*(1-rf)+(rows[r0+1][c0]*(1-cf)+rows[r0+1][c0+1]*cf)*rf;
      let x = X(cfg.t0+mW*C), y = Y(cfg.o0+oH*R), w = X(cfg.t0+mW*(C+1))-x+.7, h = Y(cfg.o0+oH*(R+1))-y+.7;
      if (C===0){ x-=30; w+=30; }
      if (C===nc*sub-1) w+=30;
      if (R===0){ y-=30; h+=30; }
      if (R===nr*sub-1) h+=30;
      const cell = mk('rect',{x:x.toFixed(1),y:y.toFixed(1),width:w.toFixed(1),height:h.toFixed(1),fill:heatColor(curved(v)/10)},heat);
      
      
    }
  }

  /* contours */
  cfg.contours.forEach(c => {
    const p = mk('path',{d:smoothPath(c.points.map(q=>[X(q[0]),Y(q[1])]),c.closed),fill:'none',stroke:'#40401c','stroke-width':3,opacity:.85},clipped);
    
    
  });

  /* arrows */
  const drawArrow = (row,col,deg) => {
    const rad = deg*Math.PI/180;
    const shown = row>=cfg.squashFrom ? Math.atan2(Math.sin(rad),Math.cos(rad)*1.98) : rad;
    const ax = X(cfg.am0+cfg.amStep*col), ay = Y(cfg.ao0+cfg.aoStep*row);
    const a = mk('path',{d:arrowShape,fill:'#000',transform:'translate('+ax.toFixed(1)+','+ay.toFixed(1)+') scale(1.42,1) rotate('+(-shown*180/Math.PI).toFixed(1)+')'},clipped);
    
    
  };
  if (cfg.arrows) cfg.arrows.forEach(t => drawArrow(t[0],t[1],t[2]));
  if (cfg.angleRows) cfg.angleRows.forEach((r,i) => r.forEach((deg,j) => drawArrow(i,j,deg)));

  /* month tick marks */
  monthTicks.forEach(m => {
    const tick = mk('line',{x1:X(m)+4,x2:X(m)+4,y1:Y(cfg.o1)-15,y2:Y(cfg.o1),stroke:'#666','stroke-width':1.5,opacity:.5},clipped);
    
    
  });

  /* cone of influence */
  const edge = months => {
    const pts = coneOctaves.map((o,i) => [X(months[i]),Y(o)]);
    pts[0][1] = Y(cfg.o0)-2;
    return pts;
  };
  const leftEdge = edge(cfg.coneLeft), rightEdge = edge(cfg.coneRight);
  const leftEnd = leftEdge[leftEdge.length-1][0].toFixed(1), rightEnd = rightEdge[rightEdge.length-1][0].toFixed(1);
  const cone = smoothPath(leftEdge,false)+'L'+leftEnd+','+(Y(cfg.o1)+4)+'L'+(X(cfg.t0)-4)+','+(Y(cfg.o1)+4)+'L'+(X(cfg.t0)-4)+','+(Y(cfg.o0)-2)+'Z'
    + smoothPath(rightEdge,false)+'L'+rightEnd+','+(Y(cfg.o1)+4)+'L'+(X(cfg.t1)+4)+','+(Y(cfg.o1)+4)+'L'+(X(cfg.t1)+4)+','+(Y(cfg.o0)-2)+'Z';
  const shade = mk('path',{d:cone,fill:'#fff','fill-opacity':.5},clipped);
  
  

  /* axis labels */
  monthTicks.forEach(m => {
    const t = mk('text',{x:X(m),y:cfg.monthLabelY,'text-anchor':'middle','dominant-baseline':'central','font-size':24},root);
    
    
    t.textContent = m;
  });
  periodTicks.forEach(p => {
    const t = mk('text',{x:cfg.periodRight,y:cfg.y0+cfg.periodK*(Math.log2(p)-2),'text-anchor':'end','dominant-baseline':'central','font-size':24},root);
    
    
    t.textContent = p;
  });

  /* colour bar */
  const gradient = mk('linearGradient',{id:cfg.id+'-scale',x1:0,y1:1,x2:0,y2:0},root);
  colorPositions.forEach((p,i) => { mk('stop',{offset:p,'stop-color':colorValues[i]},gradient); });
  const bar = mk('rect',{x:cfg.barLeft,y:cfg.barTopC,width:cfg.barW,height:cfg.barBottomC-cfg.barTopC,fill:'url(#'+cfg.id+'-scale)',stroke:'#ddd','stroke-width':1},root);
  
  
}

drawChart({
  id:'wtc-chart', clip:'clip-wtc', rows:wtcHeatRows, arrows:wtcArrows, contours:wtcContours,
  x0:84, xk:8.67, y0:580, yk:192, t0:1.05, t1:167.8, o0:1.115, o1:5.88,
  am0:4.04, amStep:5.934, ao0:1.219, aoStep:0.1667, squashFrom:16,
  coneLeft:wtcConeLeft, coneRight:wtcConeRight,
  px0:93, px1:1539, tickRight:92, vg0:303,
  panelA:{top:128,bottom:259,zero:254,k:0.57,label0:240,labelK:0.51,zeroX:68,start:97},
  panelB:{top:263,bottom:373,zero:373,k:0.52,label0:372,labelK:0.51,zeroX:83,start:100},
  barX:208, barTop:268, barH:102,
  topYearX:91, topYearY:110, botYearX:92, botYearY:393,
  monthLabelY:1352, periodRight:80, periodK:193,
  barLeft:1548, barW:19, barTopC:397, barBottomC:1326
});
drawChart({
  id:'xwt-chart', clip:'clip-xwt', rows:xwtHeatRows, angleRows:xwtAngleRows, contours:xwtContours,
  x0:1706, xk:8.66, y0:587, yk:193.3, t0:0.35, t1:167.1, o0:1.15, o1:5.865,
  am0:2.66, amStep:5.98, ao0:1.229, aoStep:0.165, squashFrom:15,
  coneLeft:xwtConeLeft, coneRight:xwtConeRight,
  px0:1713, px1:3153, tickRight:1708, vg0:1919,
  panelA:{top:137,bottom:268,zero:264,k:0.57,label0:249,labelK:0.51,zeroX:1682,start:1711},
  panelB:{top:272,bottom:385,zero:383,k:0.52,label0:381,labelK:0.525,zeroX:1699,start:1714},
  barX:1823, barTop:278, barH:102,
  topYearX:1715, topYearY:120, botYearX:1701, botYearY:407,
  monthLabelY:1360, periodRight:1696, periodK:193.3,
  barLeft:3164, barW:18, barTopC:405, barBottomC:1334
});

/* colour-scale labels */
const svgRoot = document.getElementById('figure');
wtcScaleTicks.forEach(v => {
  const t = mk('text',{x:(v===0||v===1)?1585:1593,y:1332-942*v,'text-anchor':'middle','dominant-baseline':'central','font-size':24},svgRoot);
  
  
  t.textContent = v;
});
xwtScaleTicks.forEach((v,i) => {
  const t = mk('text',{x:v>=1?3205:3210,y:865-156*Math.log2(v),'text-anchor':'middle','dominant-baseline':'central','font-size':24},svgRoot);
  
  
  t.textContent = xwtScaleNames[i];
});
</script>
</body>
</html>
